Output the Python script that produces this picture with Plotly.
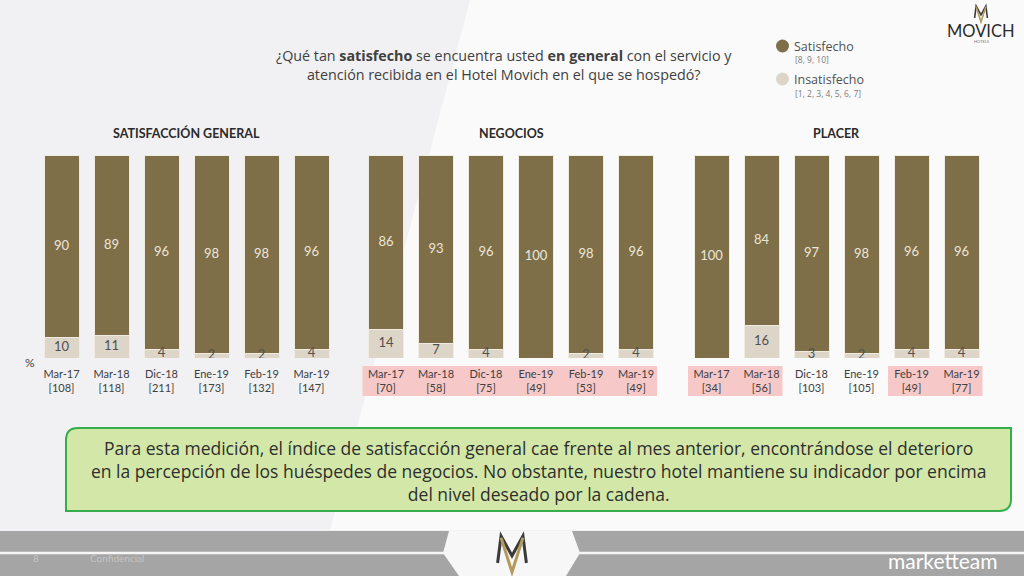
import plotly.graph_objects as go

# ---------------- data ----------------
periods = ["Mar-17", "Mar-18", "Dic-18", "Ene-19", "Feb-19", "Mar-19"]
group_titles = ["SATISFACCIÓN GENERAL", "NEGOCIOS", "PLACER"]

base_general = ["108", "118", "211", "173", "132", "147"]
base_negocios = ["70", "58", "75", "49", "53", "49"]
base_placer = ["34", "56", "103", "105", "49", "77"]

sat_general = [90, 89, 96, 98, 98, 96]
ins_general = [10, 11, 4, 2, 2, 4]
sat_negocios = [86, 93, 96, 100, 98, 96]
ins_negocios = [14, 7, 4, 0, 2, 4]
sat_placer = [100, 84, 97, 98, 96, 96]
ins_placer = [0, 16, 3, 2, 4, 4]

# low-base (highlighted) periods
low_general = [False, False, False, False, False, False]
low_negocios = [True, True, True, True, True, True]
low_placer = [True, True, False, False, True, True]

series_names = ["Satisfecho", "Insatisfecho"]
series_notes = ["[8, 9, 10]", "[1, 2, 3, 4, 5, 6, 7]"]

question = ("¿Qué tan <b>satisfecho</b> se encuentra usted <b>en general</b> con el servicio y<br>"
            "atención recibida en el Hotel Movich en el que se hospedó?")
conclusion_lines = [
    "Para esta medición, el índice de satisfacción general cae frente al mes anterior, encontrándose el deterioro",
    "en la percepción de los huéspedes de negocios. No obstante, nuestro hotel mantiene su indicador por encima",
    "del nivel deseado por la cadena.",
]

# ---------------- style ----------------
W, H = 1024, 576
FONT = "Lato"
FONT_W = "Open Sans"
C_SAT = "#7f6f48"
C_INS = "#ddd5c8"
C_TXT = "#404040"
C_PINK = "#f7c8c8"


def px(x):
    return x / W


def py(y):
    return 1 - y / H


def note(x, y, text, size, color, family=FONT, xanchor="center", align="center"):
    return dict(x=px(x), y=py(y), xref="paper", yref="paper", text=text, showarrow=False,
                xanchor=xanchor, yanchor="middle", align=align,
                font=dict(family=family, size=size, color=color))


groups = [
    (base_general, sat_general, ins_general, low_general),
    (base_negocios, sat_negocios, ins_negocios, low_negocios),
    (base_placer, sat_placer, ins_placer, low_placer),
]
# pixel domains of the three panels
x_domains = [(36.5, 336.5), (361, 661), (686.5, 986.5)]
y_dom = [py(358), py(155)]

fig = go.Figure()
shapes = []
annotations = []

for gi, (bases, sat, ins, low) in enumerate(groups):
    suffix = "" if gi == 0 else str(gi + 1)
    xa, ya = "x" + suffix, "y" + suffix
    cats = [f"{p}<br>[{b}]" for p, b in zip(periods, bases)]

    fig.add_trace(go.Bar(x=cats, y=ins, name=series_names[1],
                         marker=dict(color=C_INS, line=dict(color="#f1ece2", width=1)),
                         xaxis=xa, yaxis=ya, hoverinfo="skip"))
    fig.add_trace(go.Bar(x=cats, y=sat, name=series_names[0],
                         marker=dict(color=C_SAT, line=dict(color="#f1ece2", width=1)),
                         xaxis=xa, yaxis=ya, hoverinfo="skip"))

    # labels
    ix = [c for c, v in zip(cats, ins) if v > 0]
    iy = [v / 2 for v in ins if v > 0]
    it = [str(v) for v in ins if v > 0]
    fig.add_trace(go.Scatter(x=ix, y=iy, text=it, mode="text",
                             textfont=dict(family=FONT, size=13, color="#505050"),
                             xaxis=xa, yaxis=ya, hoverinfo="skip"))
    sy = [i + s / 2 for i, s in zip(ins, sat)]
    fig.add_trace(go.Scatter(x=cats, y=sy, text=[str(s) for s in sat], mode="text",
                             textfont=dict(family=FONT, size=13, color="#ece6da"),
                             xaxis=xa, yaxis=ya, hoverinfo="skip"))

    d0, d1 = x_domains[gi]
    fig.update_layout(**{
        "xaxis" + suffix: dict(domain=[px(d0), px(d1)], anchor=ya, type="category", range=[-0.5, 5.5],
                               showgrid=False, showline=False, zeroline=False, ticks="",
                               tickfont=dict(family=FONT, size=11, color=C_TXT), ticklabelstandoff=8,
                               fixedrange=True),
        "yaxis" + suffix: dict(domain=y_dom, anchor=xa, range=[0, 100], visible=False, fixedrange=True),
    })

    # group title
    annotations.append(note((d0 + d1) / 2, 133, f"<b>{group_titles[gi]}</b>", 12.5, "#2a2a2a"))

    # highlight boxes for low-base periods (runs of consecutive flags)
    i = 0
    while i < len(low):
        if low[i]:
            j = i
            while j + 1 < len(low) and low[j + 1]:
                j += 1
            shapes.append(dict(type="rect", xref=xa, yref="paper", x0=i - 0.47, x1=j + 0.42,
                               y0=py(396), y1=py(366), fillcolor=C_PINK, line=dict(width=0), layer="below"))
            i = j + 1
        else:
            i += 1

# ---------------- decoration ----------------
# subtle background light band
shapes.insert(0, dict(type="path", xref="paper", yref="paper", layer="below",
                      path=f"M {px(470)} {py(0)} L {px(1024)} {py(0)} L {px(1024)} {py(530)} L {px(330)} {py(530)} Z",
                      fillcolor="rgba(255,255,255,0.65)", line=dict(width=0)))

# callout box with two rounded diagonal corners
bx0, bx1, by0, by1, r = 66, 1011, 428, 511, 12
callout = (f"M {px(bx0)} {py(by0 + r)} Q {px(bx0)} {py(by0)} {px(bx0 + r)} {py(by0)} "
           f"L {px(bx1)} {py(by0)} L {px(bx1)} {py(by1 - r)} Q {px(bx1)} {py(by1)} {px(bx1 - r)} {py(by1)} "
           f"L {px(bx0)} {py(by1)} Z")
shapes.append(dict(type="path", xref="paper", yref="paper", path=callout,
                   fillcolor="#d3e8a8", line=dict(color="#35ad4b", width=2)))
annotations.append(note((bx0 + bx1) / 2, 471, "<br>".join(conclusion_lines), 17.5, "#2e2e2e", family=FONT_W))

# question
annotations.append(note(504, 65, question, 14.3, C_TXT, family=FONT_W))

# legend (manual, circles)
for nm, sub, col, yy in [(series_names[0], series_notes[0], C_SAT, 46),
                         (series_names[1], series_notes[1], C_INS, 79)]:
    shapes.append(dict(type="circle", xref="paper", yref="paper", x0=px(776), x1=px(789),
                       y0=py(yy + 6.5), y1=py(yy - 6.5), fillcolor=col, line=dict(width=0)))
    annotations.append(note(792, yy, nm, 12.5, "#505050", family=FONT_W, xanchor="left", align="left"))
    annotations.append(note(793, yy + 14, sub, 8.5, "#7a7a7a", family=FONT_W, xanchor="left", align="left"))

# "%" marker
annotations.append(note(30, 362, "%", 12, C_TXT))


# emblem (M + V) used in logos
def emblem(cx, top, h, lw):
    w = h * 0.8
    m = (f"M {px(cx - w/2)} {py(top + h*0.75)} L {px(cx - w/2 + w*0.12)} {py(top)} L {px(cx)} {py(top + h*0.55)} "
         f"L {px(cx + w/2 - w*0.12)} {py(top)} L {px(cx + w/2)} {py(top + h*0.75)}")
    v = (f"M {px(cx - w/2 + w*0.12)} {py(top + h*0.05)} L {px(cx)} {py(top + h)} "
         f"L {px(cx + w/2 - w*0.12)} {py(top + h*0.05)}")
    return [dict(type="path", xref="paper", yref="paper", path=m, line=dict(color="#3a3a3a", width=lw)),
            dict(type="path", xref="paper", yref="paper", path=v, line=dict(color="#b39b5f", width=lw))]


# top-right MOVICH logo
shapes += emblem(981, 6, 16, 1.6)
annotations.append(note(981, 31, "MOVICH", 16.5, "#2b2b2b"))
annotations.append(note(981, 41, "HOTELS", 4, "#777777"))

# footer
shapes.append(dict(type="rect", xref="paper", yref="paper", x0=0, x1=1, y0=0, y1=py(531), fillcolor="#a5a5a5",
                   line=dict(width=0)))
for (xx0, xx1) in [(0, 448), (578, 1024)]:
    shapes.append(dict(type="line", xref="paper", yref="paper", x0=px(xx0), x1=px(xx1), y0=py(553), y1=py(553),
                       line=dict(color="rgba(255,255,255,0.9)", width=2.5)))
hexp = (f"M {px(449)} {py(531)} L {px(572)} {py(531)} L {px(580)} {py(553)} L {px(566)} {py(576)} "
        f"L {px(459)} {py(576)} L {px(443)} {py(553)} Z")
shapes.append(dict(type="path", xref="paper", yref="paper", path=hexp, fillcolor="#f7f7f7", line=dict(width=0)))
shapes += emblem(512, 536, 36, 3)
annotations.append(note(1000, 560, "marketteam", 21, "#ffffff", xanchor="right"))
annotations.append(note(36, 558, "8", 10, "#c4c4c4"))
annotations.append(note(88, 558, "Confidencial", 10, "#c4c4c4", xanchor="left"))

fig.update_layout(
    width=W, height=H, autosize=False,
    margin=dict(l=0, r=0, t=0, b=0),
    barmode="stack", bargap=0.3,
    showlegend=False,
    paper_bgcolor="#f1f1f3", plot_bgcolor="rgba(0,0,0,0)",
    font=dict(family=FONT, color=C_TXT),
    shapes=shapes, annotations=annotations,
)

fig.write_html("out.html", config={"displayModeBar": False},
               post_script="document.body.style.margin='0';document.body.style.overflow='hidden';")
